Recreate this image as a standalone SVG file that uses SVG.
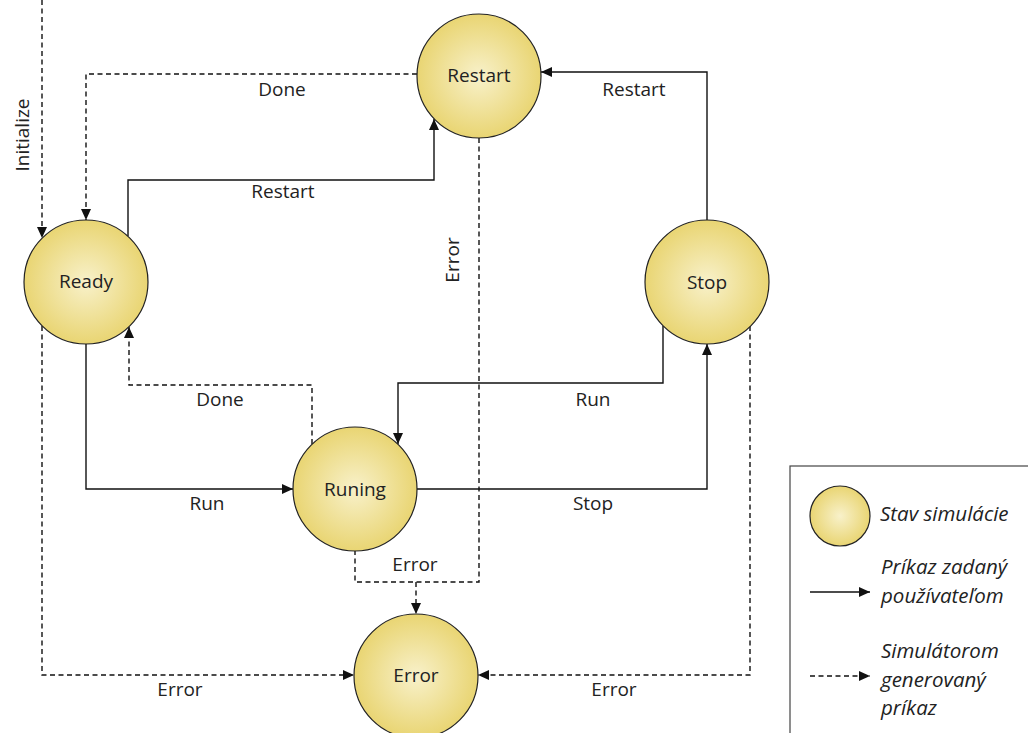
<svg xmlns="http://www.w3.org/2000/svg" width="1028" height="733" viewBox="0 0 1028 733">
<defs>
<radialGradient id="g" cx="50%" cy="50%" r="50%">
<stop offset="0" stop-color="#f8f1ca"/>
<stop offset="1" stop-color="#e9d573"/>
</radialGradient>
<marker id="a" markerUnits="userSpaceOnUse" markerWidth="12" markerHeight="10" refX="11" refY="5" orient="auto">
<path d="M0,0 L11,5 L0,10 z" fill="#111"/>
</marker>
</defs>
<style>
.n{fill:url(#g);stroke:#222;stroke-width:1.2}
.t{font-family:"Open Sans",sans-serif;font-size:19px;fill:#222;text-anchor:middle;dominant-baseline:central}
.s{fill:none;stroke:#111;stroke-width:1.4;marker-end:url(#a)}
.d{fill:none;stroke:#111;stroke-width:1.4;stroke-dasharray:5,3.5;marker-end:url(#a)}
.dn{fill:none;stroke:#111;stroke-width:1.4;stroke-dasharray:5,3.5}
.l{font-family:"Open Sans",sans-serif;font-size:20.5px;font-style:italic;fill:#222;dominant-baseline:central}
</style>
<g id="connectors">
<path class="d" d="M42,0 V238"/>
<path class="d" d="M417,74 H86 V220"/>
<path class="s" d="M128,236 V180 H434 V119"/>
<path class="s" d="M707,220 V72 H541"/>
<path class="dn" d="M479,138 V582 H355 V551"/>
<path class="d" d="M416,582 V614"/>
<path class="s" d="M86,344 V489 H293"/>
<path class="d" d="M312,444 V385 H129 V327"/>
<path class="s" d="M663,326 V383 H398 V444"/>
<path class="s" d="M417,489 H707 V344"/>
<path class="d" d="M42,326 V675 H354"/>
<path class="d" d="M750,326 V675 H478"/>
<text class="t" transform="translate(22,135) rotate(-90)">Initialize</text>
<text class="t" x="282" y="89">Done</text>
<text class="t" x="283" y="191">Restart</text>
<text class="t" x="634" y="89">Restart</text>
<text class="t" transform="translate(452,260) rotate(-90)">Error</text>
<text class="t" x="220" y="399">Done</text>
<text class="t" x="593" y="399">Run</text>
<text class="t" x="207" y="503">Run</text>
<text class="t" x="593" y="503">Stop</text>
<text class="t" x="415" y="564">Error</text>
<text class="t" x="180" y="689">Error</text>
<text class="t" x="614" y="689">Error</text>
</g>
<g id="ready"><circle class="n" cx="86" cy="282" r="62"/><text class="t" x="86" y="281">Ready</text></g>
<g id="restart"><circle class="n" cx="479" cy="76" r="62"/><text class="t" x="479" y="75">Restart</text></g>
<g id="stop"><circle class="n" cx="707" cy="282" r="62"/><text class="t" x="707" y="282">Stop</text></g>
<g id="runing"><circle class="n" cx="355" cy="489" r="62"/><text class="t" x="355" y="489">Runing</text></g>
<g id="error"><circle class="n" cx="416" cy="676" r="62"/><text class="t" x="416" y="675">Error</text></g>
<g id="legend">
<rect x="790" y="466" width="250" height="280" fill="#fff" stroke="#444" stroke-width="1.2"/>
<circle class="n" cx="840" cy="516" r="30"/>
<text class="l" x="880" y="513">Stav simulácie</text>
<path class="s" d="M810,592 H870"/>
<text class="l" x="881" y="566">Príkaz zadaný</text>
<text class="l" x="881" y="595">používateľom</text>
<path class="d" d="M810,676 H870"/>
<text class="l" x="881" y="650">Simulátorom</text>
<text class="l" x="881" y="679">generovaný</text>
<text class="l" x="881" y="707">príkaz</text>
</g>
</svg>
